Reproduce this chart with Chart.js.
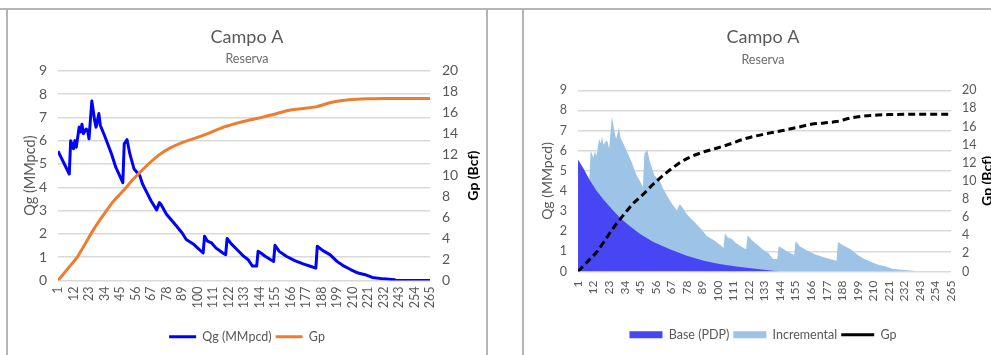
<!DOCTYPE html>
<html lang="es">
<head>
<meta charset="utf-8">
<script src="https://cdn.jsdelivr.net/npm/chart.js@4"></script>
<style>
  html, body { margin: 0; padding: 0; background: #fff; }
  body { width: 991px; height: 355px; overflow: hidden; position: relative; }
  .marco { position: absolute; background: #b4b4b8; }
  .caja { position: absolute; top: 10px; height: 345px; }
</style>
</head>
<body>
<div class="marco" style="left:0;top:8px;width:991px;height:2px"></div>
<div class="marco" style="left:6px;top:8px;width:2px;height:347px"></div>
<div class="marco" style="left:486px;top:8px;width:2px;height:347px"></div>
<div class="marco" style="left:522px;top:8px;width:2px;height:347px"></div>
<div class="caja" style="left:8px;width:478px"><canvas id="chartIzq"></canvas></div>
<div class="caja" style="left:525px;width:476px"><canvas id="chartDer"></canvas></div>
<script>
/* --------- datos --------- */
// etiquetas del eje X (mes)
const xTicks = [1, 12, 23, 34, 45, 56, 67, 78, 89, 100, 111, 122, 133, 144, 155, 166, 177, 188, 199, 210, 221, 232, 243, 254, 265];

// Qg total (MMpcd) - vértices
const qgMonth = [1, 9, 10, 12, 13, 14, 16, 17, 18, 19, 21, 22, 23, 25, 27, 28, 30, 31, 34, 39, 42, 47, 48, 50, 52, 55, 59, 61, 64, 67, 71, 73, 74, 78, 84, 89, 92, 97, 100, 104, 105, 107, 110, 113, 118, 120, 121, 124, 128, 132, 136, 139, 142, 143, 145, 148, 152, 154, 155, 158, 163, 169, 175, 180, 184, 185, 189, 194, 199, 203, 209, 214, 219, 224, 232, 240, 241, 265];
const qgRate = [5.55, 4.57, 6.0, 5.65, 6.0, 5.72, 6.58, 6.37, 6.7, 6.3, 6.5, 6.44, 6.08, 7.7, 6.87, 6.58, 7.16, 6.66, 6.22, 5.43, 4.86, 4.2, 5.86, 6.04, 5.43, 4.78, 4.5, 4.14, 3.78, 3.42, 3.03, 3.34, 3.27, 2.84, 2.41, 2.05, 1.76, 1.57, 1.4, 1.18, 1.9, 1.69, 1.61, 1.4, 1.18, 1.11, 1.8, 1.57, 1.33, 1.08, 0.89, 0.62, 0.62, 1.25, 1.18, 1.04, 0.89, 0.82, 1.51, 1.25, 1.04, 0.85, 0.71, 0.61, 0.53, 1.47, 1.28, 1.11, 0.82, 0.65, 0.46, 0.32, 0.25, 0.13, 0.07, 0.03, 0, 0];

// Base (PDP)
const baseMonth = [1, 5, 9, 14, 19, 26, 31, 38, 45, 54, 66, 78, 90, 101, 113, 125, 134, 141, 143];
const baseRate = [5.55, 5.1, 4.57, 4.02, 3.57, 3.02, 2.64, 2.24, 1.86, 1.48, 1.11, 0.78, 0.53, 0.37, 0.25, 0.15, 0.08, 0.03, 0];

// Gp acumulado (Bcf)
const gpMonth = [1, 9, 14, 19, 26, 33, 40, 47, 54, 59, 66, 73, 80, 90, 99, 109, 118, 128, 137, 147, 156, 166, 175, 184, 194, 203, 213, 222, 232, 265];
const gpCum = [0, 1.3, 2.1, 3.2, 4.8, 6.2, 7.5, 8.5, 9.6, 10.3, 11.2, 12.0, 12.6, 13.2, 13.6, 14.1, 14.6, 15.0, 15.3, 15.6, 15.9, 16.25, 16.4, 16.55, 16.95, 17.15, 17.27, 17.32, 17.35, 17.35];

/* --------- estilos --------- */
const GRAY = "#595959";
const FONT = "Lato, 'Open Sans', sans-serif";
Chart.defaults.font.family = FONT;

const toPoints = (xs, ys) => xs.map((x, i) => ({ x, y: ys[i] }));

// títulos de ejes girados (los dos leen de abajo hacia arriba)
const axisTitles = {
  id: "axisTitles",
  afterDraw(chart, args, opts) {
    const { ctx, chartArea } = chart;
    const cy = (chartArea.top + chartArea.bottom) / 2;
    [opts.left, opts.right].forEach((t) => {
      if (!t) return;
      ctx.save();
      ctx.translate(t.x, cy);
      ctx.rotate(-Math.PI / 2);
      ctx.font = t.font;
      ctx.fillStyle = t.color;
      ctx.textAlign = "center";
      ctx.textBaseline = "middle";
      ctx.fillText(t.text, 0, 0);
      ctx.restore();
    });
  },
};

function xScale(height, size, pad) {
  return {
    type: "linear",
    min: 1,
    max: 265,
    afterBuildTicks: (s) => { s.ticks = xTicks.map((v) => ({ value: v })); },
    afterFit: (s) => { s.height = height; },
    grid: { display: false, drawTicks: false },
    border: { display: false },
    ticks: { autoSkip: false, minRotation: 90, maxRotation: 90, padding: pad, color: GRAY, font: { size } },
  };
}

function yLeft(width, size, pad) {
  return {
    position: "left",
    min: 0,
    max: 9,
    afterFit: (s) => { s.width = width; },
    grid: { color: "#d9d9d9", lineWidth: 1.5, drawTicks: false },
    border: { display: false },
    ticks: { stepSize: 1, padding: pad, color: GRAY, font: { size } },
  };
}

function yRight(width, size, pad) {
  return {
    position: "right",
    min: 0,
    max: 20,
    afterFit: (s) => { s.width = width; },
    grid: { display: false, drawTicks: false },
    border: { display: false },
    ticks: { stepSize: 2, padding: pad, color: GRAY, font: { size } },
  };
}

function legendOpts(width, size) {
  return {
    position: "bottom",
    labels: {
      usePointStyle: true,
      pointStyleWidth: width,
      boxHeight: 7,
      padding: 4,
      color: GRAY,
      font: { size },
      sort: (a, b) => a.datasetIndex - b.datasetIndex,
    },
  };
}

/* --------- gráfico izquierdo --------- */
new Chart(document.getElementById("chartIzq"), {
  type: "line",
  data: {
    datasets: [
      {
        label: "Qg (MMpcd)",
        data: toPoints(qgMonth, qgRate),
        yAxisID: "y",
        borderColor: "#0000ff",
        backgroundColor: "#0000ff",
        borderWidth: 3,
        borderJoinStyle: "round",
        pointRadius: 0,
        pointStyle: "line",
        order: 1,
      },
      {
        label: "Gp",
        data: toPoints(gpMonth, gpCum),
        yAxisID: "y1",
        borderColor: "#ed7d31",
        backgroundColor: "#ed7d31",
        borderWidth: 3,
        cubicInterpolationMode: "monotone",
        pointRadius: 0,
        pointStyle: "line",
        order: 0,
      },
    ],
  },
  options: {
    responsive: true,
    maintainAspectRatio: false,
    animation: false,
    layout: { padding: { left: 0, right: 0, top: 0, bottom: 2 } },
    plugins: {
      title: { display: true, text: "Campo A", color: GRAY, font: { size: 18, weight: "normal" }, padding: { top: 16.2, bottom: 0 } },
      subtitle: { display: true, text: "Reserva", color: "#6b6b6b", font: { size: 12.5 }, padding: { top: 3.7, bottom: 4.2 } },
      legend: legendOpts(27, 12.5),
      tooltip: { enabled: false },
      axisTitles: {
        left: { x: 22, text: "Qg (MMpcd)", font: "14.5px " + FONT, color: GRAY },
        right: { x: 465, text: "Gp (Bcf)", font: "bold 14px " + FONT, color: "#000" },
      },
    },
    scales: { x: xScale(46, 12.5, 6), y: yLeft(50, 14, 11), y1: yRight(56, 14, 12) },
  },
  plugins: [axisTitles],
});

/* --------- gráfico derecho --------- */
new Chart(document.getElementById("chartDer"), {
  type: "line",
  data: {
    datasets: [
      {
        label: "Base (PDP)",
        data: toPoints(baseMonth, baseRate),
        yAxisID: "y",
        backgroundColor: "#4646f5",
        borderColor: "#4646f5",
        borderWidth: 0,
        fill: "origin",
        pointRadius: 0,
        pointStyle: "rect",
        order: 1,
      },
      {
        label: "Incremental",
        data: toPoints(qgMonth, qgRate),
        yAxisID: "y",
        backgroundColor: "#9dc3e6",
        borderColor: "#9dc3e6",
        borderWidth: 0,
        fill: "origin",
        pointRadius: 0,
        pointStyle: "rect",
        order: 2,
      },
      {
        label: "Gp",
        data: toPoints(gpMonth, gpCum),
        yAxisID: "y1",
        borderColor: "#000",
        backgroundColor: "#000",
        borderWidth: 3,
        borderDash: [7, 4],
        cubicInterpolationMode: "monotone",
        pointRadius: 0,
        pointStyle: "line",
        order: 0,
      },
    ],
  },
  options: {
    responsive: true,
    maintainAspectRatio: false,
    animation: false,
    layout: { padding: { left: 0, right: 0, top: 0, bottom: 4 } },
    plugins: {
      title: { display: true, text: "Campo A", color: GRAY, font: { size: 18, weight: "normal" }, padding: { top: 16.2, bottom: 0 } },
      subtitle: { display: true, text: "Reserva", color: "#6b6b6b", font: { size: 12.5 }, padding: { top: 4.7, bottom: 22.8 } },
      legend: legendOpts(33, 12.5),
      tooltip: { enabled: false },
      axisTitles: {
        left: { x: 22, text: "Qg (MMpcd)", font: "14px " + FONT, color: GRAY },
        right: { x: 462, text: "Gp (Bcf)", font: "bold 14px " + FONT, color: "#000" },
      },
    },
    scales: { x: xScale(53, 12, 9), y: yLeft(53, 12.5, 11), y1: yRight(50, 12.5, 11) },
  },
  plugins: [axisTitles],
});
</script>
</body>
</html>
